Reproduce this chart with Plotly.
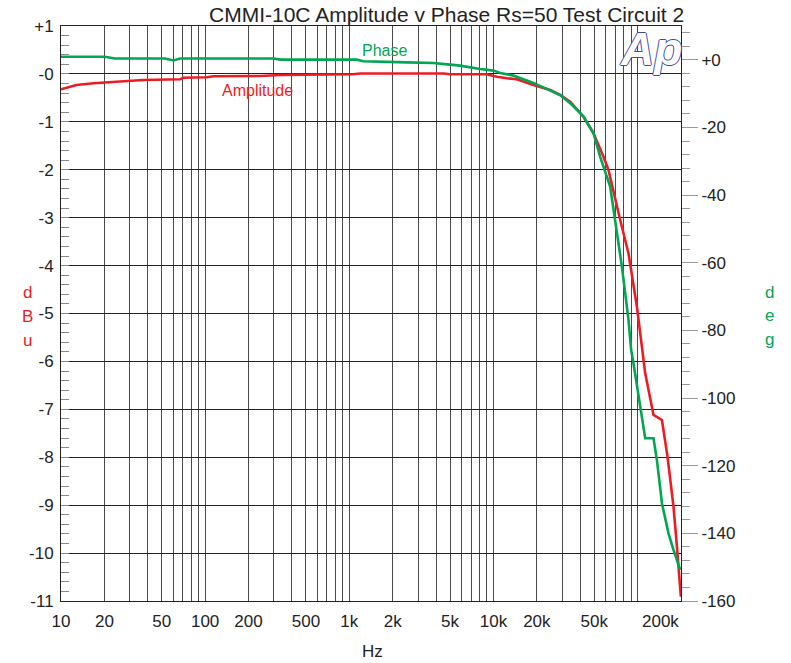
import plotly.graph_objects as go
import numpy as np

# ---- data ----
amp_freq = [10, 12.8, 16.8, 20.1, 27, 37.2, 67, 70.3, 102.6, 114, 240, 332, 1062, 1189,
            4500, 5012, 9000, 10570, 12400, 14520, 18950, 24730, 29030, 34060, 42150,
            49450, 58000, 62800, 75700, 86400, 98900, 107100, 112900, 128900, 147500,
            161200, 177400, 187400, 199600]
amp_dbu = [-0.32, -0.23, -0.196, -0.183, -0.148, -0.127, -0.112, -0.079, -0.071, -0.05,
           -0.043, -0.023, -0.008, 0.01, 0.01, -0.008, -0.008, -0.058, -0.091, -0.112,
           -0.231, -0.336, -0.44, -0.58, -0.893, -1.239, -1.727, -2.005, -3.048, -3.743,
           -4.858, -5.761, -6.248, -7.118, -7.222, -7.988, -9.031, -9.866, -10.909]

ph_freq = [10, 20.1, 23.7, 52.7, 60.1, 67, 297, 332, 1127, 1247, 2508, 3836, 5012, 5880,
           8090, 10000, 11130, 13760, 18950, 24730, 29030, 34060, 42150, 49450, 54950,
           64500, 69930, 77860, 86450, 90250, 93600, 104200, 112900, 128900, 136100,
           147500, 163800, 177400, 197600]
ph_deg = [0.92, 0.92, 0.4, 0.4, -0.2, 0.4, 0.4, 0.06, 0.06, -0.44, -0.74, -0.92, -1.42,
          -1.71, -2.69, -3.19, -3.87, -4.67, -6.83, -8.92, -10.4, -12.8, -16.8, -21.7,
          -28.6, -37.5, -47.4, -61.2, -76.9, -85.8, -89.7, -102.6, -111.9, -111.9, -118.3,
          -131.1, -140, -144.9, -150.8]

x_grid_vals = [m * 10 ** d for d in range(1, 6) for m in range(1, 10)] + [200000]
x_label_map = {10: "10", 20: "20", 50: "50", 100: "100", 200: "200", 500: "500",
               1000: "1k", 2000: "2k", 5000: "5k", 10000: "10k", 20000: "20k", 50000: "50k"}
x_tick_text = [x_label_map.get(v, "") for v in x_grid_vals]

left_vals = list(range(1, -12, -1))
left_text = ["+1", "-0"] + [str(v) for v in range(-1, -12, -1)]
right_vals = list(range(-160, 1, 20))
right_text = [str(v) for v in range(-160, 0, 20)] + ["+0"]

RED = "#ed1c24"
GREEN = "#00a651"
TXT = "#222222"
FONT = "Arial, Liberation Sans, sans-serif"

fig = go.Figure()
fig.add_trace(go.Scatter(x=amp_freq, y=amp_dbu, mode="lines",
                         line=dict(color=RED, width=2.6), yaxis="y", showlegend=False))
fig.add_trace(go.Scatter(x=ph_freq, y=ph_deg, mode="lines",
                         line=dict(color=GREEN, width=2.6), yaxis="y2", showlegend=False))

fig.update_layout(
    width=791, height=663,
    margin=dict(l=61, r=110, t=26, b=62),
    paper_bgcolor="white", plot_bgcolor="white",
    font=dict(family=FONT, size=17, color=TXT),
    xaxis=dict(type="log", range=[1, np.log10(200000)],
               tickvals=x_grid_vals, ticktext=x_tick_text, ticks="",
               showgrid=True, gridcolor="#4a4a4a", gridwidth=1,
               showline=True, linecolor="#222", linewidth=1, mirror=True,
               zeroline=False, ticklabelstandoff=5, tickfont=dict(size=17, color=TXT)),
    yaxis=dict(range=[-11, 1], tickvals=left_vals, ticktext=left_text,
               ticks="inside", ticklen=8, tickcolor="#888",
               showgrid=True, gridcolor="#222", gridwidth=1, zeroline=False,
               showline=True, linecolor="#222", linewidth=1, mirror=False,
               minor=dict(dtick=0.2, ticks="inside", ticklen=8, tickcolor="#888", showgrid=False),
               ticklabelstandoff=3, tickfont=dict(size=17, color=TXT)),
    yaxis2=dict(range=[-160, 10], overlaying="y", side="right",
                tickvals=right_vals, ticktext=right_text,
                ticks="outside", ticklen=16, tickcolor="#999",
                minor=dict(dtick=4, ticks="outside", ticklen=8, tickcolor="#999", showgrid=False),
                showgrid=False, zeroline=False,
                showline=True, linecolor="#222", linewidth=1,
                tickfont=dict(size=17, color=TXT)),
)

ann = []
ann.append(dict(text="CMMI-10C Amplitude v Phase Rs=50 Test Circuit 2", xref="paper", yref="paper",
                x=1, y=1, xanchor="right", yanchor="bottom", xshift=5, yshift=-2,
                showarrow=False, font=dict(size=21, color=TXT)))
ann.append(dict(text="200k", xref="x", yref="paper", x=np.log10(200000), y=0,
                xanchor="right", yanchor="top", yshift=-9, showarrow=False,
                font=dict(size=17, color=TXT)))
ann.append(dict(text="Hz", xref="paper", yref="paper", x=(372 - 61) / 620, y=0,
                xanchor="center", yanchor="middle", yshift=-50, showarrow=False,
                font=dict(size=17, color=TXT)))
for i, ch in enumerate("dBu"):
    ann.append(dict(text=ch, xref="paper", yref="paper", x=(27 - 61) / 620,
                    y=1 - (293 + 23.5 * i - 26) / 575, xanchor="center", yanchor="middle",
                    showarrow=False, font=dict(size=17, color=RED)))
for i, ch in enumerate("deg"):
    ann.append(dict(text=ch, xref="paper", yref="paper", x=(769 - 61) / 620,
                    y=1 - (292 + 23.5 * i - 26) / 575, xanchor="center", yanchor="middle",
                    showarrow=False, font=dict(size=17, color=GREEN)))
ann.append(dict(text="Amplitude", xref="x", yref="y", x=np.log10(229), y=-0.336,
                xanchor="center", yanchor="middle", showarrow=False,
                font=dict(size=16, color=RED)))
ann.append(dict(text="Phase", xref="x", yref="y2", x=np.log10(1754), y=2.9,
                xanchor="center", yanchor="middle", showarrow=False,
                font=dict(size=16, color=GREEN)))
logo_c = "#3b4ba6"
ann.append(dict(text="Ap", xref="paper", yref="paper", x=(651 - 61) / 620, y=1 - (49 - 26) / 575,
                xanchor="center", yanchor="middle", showarrow=False,
                font=dict(size=46, color="white", style="italic", weight="bold",
                          shadow=f"1px 0 0 {logo_c}, -1px 0 0 {logo_c}, 0 1px 0 {logo_c}, 0 -1px 0 {logo_c}")))
fig.update_layout(annotations=ann)

fig.write_html("out.html")
